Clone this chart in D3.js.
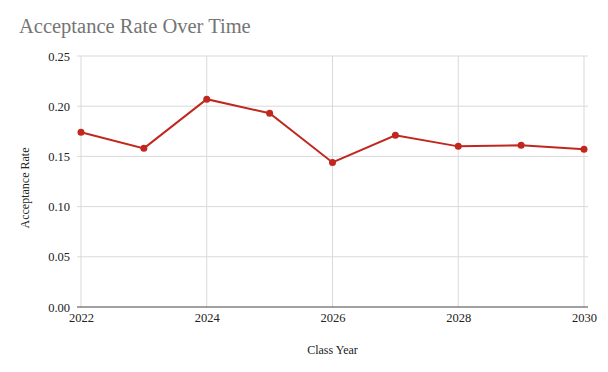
<!DOCTYPE html>
<html>
<head>
<meta charset="utf-8">
<script src="https://cdn.jsdelivr.net/npm/d3@7"></script>
<style>
  body { margin: 0; background: #fff; }
</style>
</head>
<body>
<div id="chart"></div>
<script>
var years = [2022, 2023, 2024, 2025, 2026, 2027, 2028, 2029, 2030];
var rates = [0.174, 0.158, 0.207, 0.193, 0.144, 0.171, 0.160, 0.161, 0.157];
var yTicks = [0, 0.05, 0.10, 0.15, 0.20, 0.25];
var xTicks = [2022, 2024, 2026, 2028, 2030];

var SERIF = "'Liberation Serif', 'Times New Roman', serif";

var WIDTH = 608, HEIGHT = 372,
  MARGINS = { top: 56, right: 24, bottom: 65, left: 81 };

var svg = d3.select("#chart").append("svg")
  .attr("width", WIDTH)
  .attr("height", HEIGHT)
  .style("font-family", SERIF);

var xRange = d3.scaleLinear()
  .domain([2022, 2030])
  .range([MARGINS.left, WIDTH - MARGINS.right]);

var yRange = d3.scaleLinear()
  .domain([0, 0.25])
  .range([HEIGHT - MARGINS.bottom, MARGINS.top]);

// horizontal grid
svg.append("g")
  .selectAll("line")
  .data(yTicks.filter(function (d) { return d > 0; }))
  .enter().append("line")
  .attr("x1", MARGINS.left - 4)
  .attr("x2", WIDTH - MARGINS.right + 4)
  .attr("y1", function (d) { return yRange(d); })
  .attr("y2", function (d) { return yRange(d); })
  .attr("stroke", "#d9d9d9")
  .attr("stroke-width", 1);

// vertical grid
svg.append("g")
  .selectAll("line")
  .data(xTicks)
  .enter().append("line")
  .attr("x1", function (d) { return xRange(d); })
  .attr("x2", function (d) { return xRange(d); })
  .attr("y1", MARGINS.top)
  .attr("y2", HEIGHT - MARGINS.bottom)
  .attr("stroke", "#d9d9d9")
  .attr("stroke-width", 1);

// baseline
svg.append("line")
  .attr("x1", MARGINS.left - 4)
  .attr("x2", WIDTH - MARGINS.right + 4)
  .attr("y1", yRange(0))
  .attr("y2", yRange(0))
  .attr("stroke", "#444")
  .attr("stroke-width", 1.2);

var yAxis = d3.axisLeft(yRange)
  .tickValues(yTicks)
  .tickFormat(d3.format(".2f"))
  .tickSize(0)
  .tickPadding(7);

var gy = svg.append("g")
  .attr("transform", "translate(" + (MARGINS.left - 4) + ",0)")
  .call(yAxis);
gy.select(".domain").remove();
gy.attr("font-family", SERIF).attr("font-size", 12.5);
gy.selectAll("text")
  .style("font-family", SERIF)
  .style("font-size", "12.5px")
  .attr("fill", "#222");

var xAxis = d3.axisBottom(xRange)
  .tickValues(xTicks)
  .tickFormat(d3.format("d"))
  .tickSize(0)
  .tickPadding(6);

var gx = svg.append("g")
  .attr("transform", "translate(0," + yRange(0) + ")")
  .call(xAxis);
gx.select(".domain").remove();
gx.attr("font-family", SERIF).attr("font-size", 12.5);
gx.selectAll("text")
  .style("font-family", SERIF)
  .style("font-size", "12.5px")
  .attr("fill", "#222");

var lineFunc = d3.line()
  .x(function (d, i) { return xRange(years[i]); })
  .y(function (d) { return yRange(d); });

svg.append("path")
  .attr("d", lineFunc(rates))
  .attr("stroke", "#c0281f")
  .attr("stroke-width", 2)
  .attr("fill", "none");

svg.append("g")
  .selectAll("circle")
  .data(rates)
  .enter().append("circle")
  .attr("cx", function (d, i) { return xRange(years[i]); })
  .attr("cy", function (d) { return yRange(d); })
  .attr("r", 3.5)
  .attr("fill", "#c0281f");

svg.append("text")
  .attr("x", 19)
  .attr("y", 33)
  .style("font-size", "20.5px")
  .style("fill", "#757575")
  .text("Acceptance Rate Over Time");

svg.append("text")
  .attr("x", (MARGINS.left + WIDTH - MARGINS.right) / 2)
  .attr("y", 354)
  .attr("text-anchor", "middle")
  .style("font-size", "12px")
  .style("fill", "#222")
  .text("Class Year");

svg.append("text")
  .attr("transform", "translate(29,188) rotate(-90)")
  .attr("text-anchor", "middle")
  .style("font-size", "12px")
  .style("fill", "#222")
  .text("Acceptance Rate");
</script>
</body>
</html>
